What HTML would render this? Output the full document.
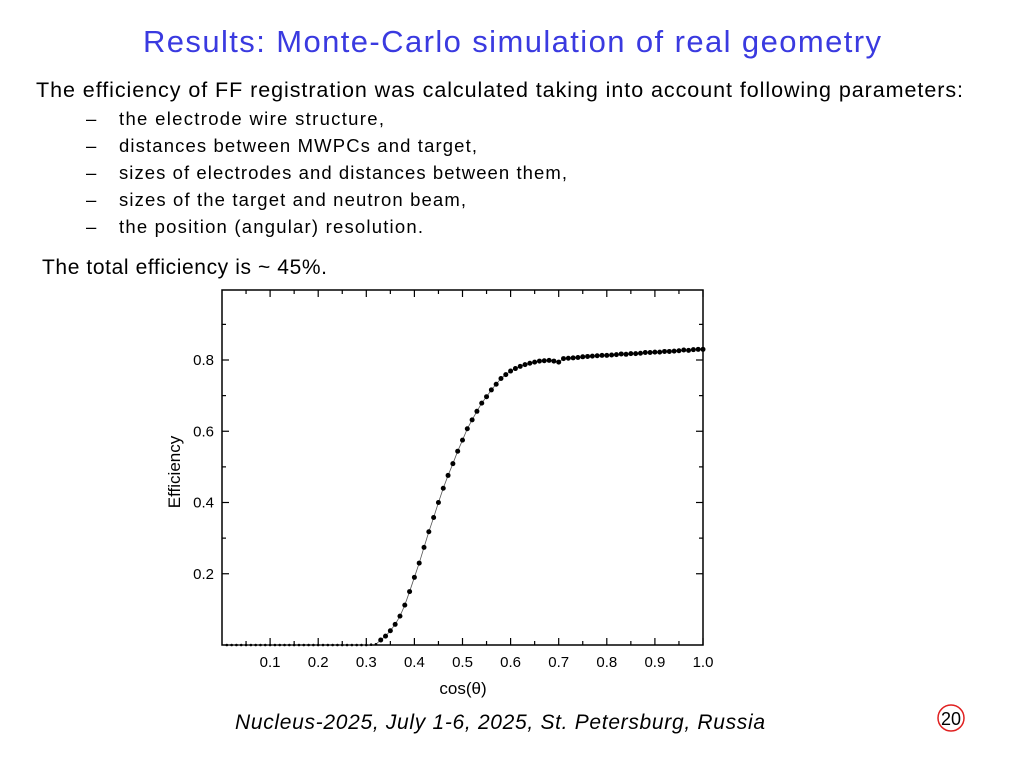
<!DOCTYPE html>
<html><head><meta charset="utf-8"><style>
html,body{margin:0;padding:0;background:#fff;}
svg{display:block;}
</style></head><body>
<svg id="slide" width="1024" height="768" xmlns="http://www.w3.org/2000/svg">
<text x="512" y="52" text-anchor="middle" font-family="Liberation Sans, sans-serif" font-size="31" fill="#3a3ae0" textLength="738">Results: Monte-Carlo simulation of real geometry</text>
<g font-family="Liberation Sans, sans-serif" fill="#000">
<text x="36" y="97" font-size="21.5" textLength="927">The efficiency of FF registration was calculated taking into account following parameters:</text>
<g font-size="18.5">
<text x="86" y="125">–</text><text x="119" y="125" textLength="265">the electrode wire structure,</text>
<text x="86" y="152">–</text><text x="119" y="152" textLength="358">distances between MWPCs and target,</text>
<text x="86" y="179">–</text><text x="119" y="179" textLength="448">sizes of electrodes and distances between them,</text>
<text x="86" y="206">–</text><text x="119" y="206" textLength="347">sizes of the target and neutron beam,</text>
<text x="86" y="233">–</text><text x="119" y="233" textLength="304">the position (angular) resolution.</text>
</g>
<text x="42" y="274" font-size="21" textLength="285">The total efficiency is ~ 45%.</text>
</g>
<g id="chart"></g>
<text x="500" y="729" text-anchor="middle" font-family="Liberation Sans, sans-serif" font-style="italic" font-size="21" textLength="530">Nucleus-2025, July 1-6, 2025, St. Petersburg, Russia</text>
<circle cx="951" cy="718" r="13" fill="none" stroke="#e02020" stroke-width="1.5"/>
<text x="951" y="725" text-anchor="middle" font-family="Liberation Sans, sans-serif" font-size="18">20</text>
</svg>
<script>
const xValues=[];for(let i=1;i<=100;i++)xValues.push(+(i*0.01).toFixed(2));
const effValues=[0,0,0,0,0,0,0,0,0,0,0,0,0,0,0,0,0,0,0,0,0,0,0,0,0,0,0,0,0,0,0.001,0.002,
0.014,0.025,0.04,0.058,0.081,0.112,0.15,0.19,0.23,0.274,0.318,0.358,0.40,0.44,0.476,0.509,0.544,0.575,0.607,0.632,0.656,0.679,0.697,0.716,0.732,0.748,0.759,0.769,0.776,0.782,0.787,0.791,0.794,0.797,0.798,0.799,0.797,0.794,
0.804,0.805,0.806,0.807,0.809,0.810,0.811,0.812,0.813,0.813,0.814,0.815,0.817,0.816,0.818,0.818,0.819,0.821,0.821,0.822,0.822,0.824,0.824,0.825,0.826,0.828,0.827,0.829,0.830,0.830];
const xTicks=[0.1,0.2,0.3,0.4,0.5,0.6,0.7,0.8,0.9,1.0];
const yTicks=[0.2,0.4,0.6,0.8];
const NS='http://www.w3.org/2000/svg';
const L=222,R=703,T=290,B=645;
const X0=0,X1=1.0,Y0=0,Y1=0.9965;
function sx(v){return L+(v-X0)/(X1-X0)*(R-L);}
function sy(v){return B-(v-Y0)/(Y1-Y0)*(B-T);}
const g=document.getElementById('chart');
function mk(t,a){const e=document.createElementNS(NS,t);for(const k in a)e.setAttribute(k,a[k]);g.appendChild(e);return e;}
const frame=mk('rect',{x:L,y:T,width:R-L,height:B-T,fill:'none',stroke:'#000','stroke-width':1.5});


for(let k=1;k<=20;k++){const v=k*0.05;const maj=k%2===0;const len=maj?7:4;
 const t1=mk('line',{x1:sx(v),x2:sx(v),y1:B,y2:B-len,stroke:'#000','stroke-width':1.2});
 
 
 const t2=mk('line',{x1:sx(v),x2:sx(v),y1:T,y2:T+len,stroke:'#000','stroke-width':1.2});
 
 }
xTicks.forEach(v=>{const t=mk('text',{x:sx(v),y:B+22,'text-anchor':'middle','font-family':'Liberation Sans, sans-serif','font-size':15});
 t.textContent=v.toFixed(1);
 
 });
for(let k=1;k<=4;k++){const v=k*0.2;
 [[L,L+7],[R,R-7]].forEach(p=>{const l=mk('line',{x1:p[0],x2:p[1],y1:sy(v),y2:sy(v),stroke:'#000','stroke-width':1.2});
 
 });
 const m=sy(v+0.1);
 [[L,L+4],[R,R-4]].forEach(p=>{const l=mk('line',{x1:p[0],x2:p[1],y1:m,y2:m,stroke:'#000','stroke-width':1.2});
 
 });}
yTicks.forEach(v=>{const t=mk('text',{x:L-8,y:sy(v)+5,'text-anchor':'end','font-family':'Liberation Sans, sans-serif','font-size':15});
 t.textContent=v.toFixed(1);
 
 });
const xt=mk('text',{x:463,y:694,'text-anchor':'middle','font-family':'Liberation Sans, sans-serif','font-size':17});
xt.textContent='cos(θ)';


const yt=mk('text',{x:0,y:0,'text-anchor':'middle','font-family':'Liberation Sans, sans-serif','font-size':17,transform:'translate(180,472) rotate(-90)'});
yt.textContent='Efficiency';


const pl=mk('polyline',{points:xValues.map((x,i)=>sx(x)+','+sy(effValues[i])).join(' '),fill:'none',stroke:'#555','stroke-width':0.8});


xValues.forEach((x,i)=>{const c=mk('circle',{cx:sx(x),cy:sy(effValues[i]),r:effValues[i]<0.005?1.3:2.5,fill:'#000'});
 
 });
</script>
</body></html>
